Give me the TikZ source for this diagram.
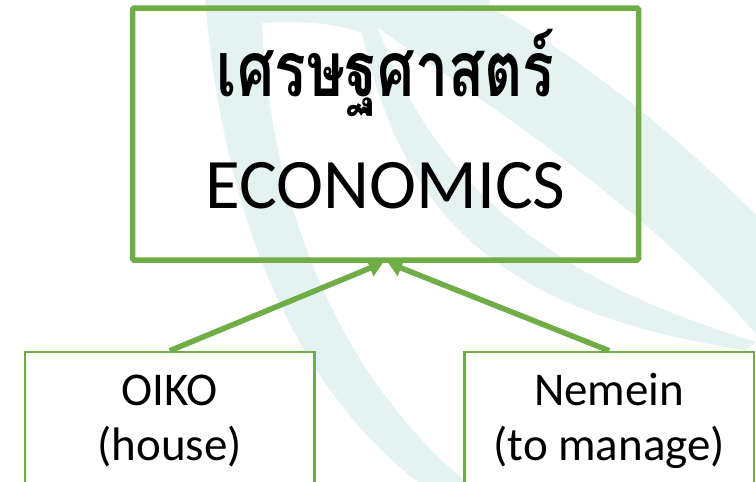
\documentclass[tikz,border=0pt]{standalone}
\usepackage{fontspec}
\setmainfont{Carlito}
\newfontfamily\thaifont[Script=Thai]{Loma}
\usetikzlibrary{arrows.meta}

\begin{document}
\begin{tikzpicture}[x=1pt,y=-1pt]
\definecolor{leafgreen}{RGB}{112,173,71}
\definecolor{wisp}{RGB}{228,243,242}
\tikzstyle{topbox}=[draw=leafgreen,line width=5.5pt,rounded corners=1.5pt,minimum width=506pt,minimum height=252pt,align=center,inner sep=0pt,font=\fontsize{71}{112}\selectfont,text height=181pt,text depth=33pt];
\tikzstyle{wordbox}=[draw=leafgreen,fill=white,line width=2.5pt,minimum width=289.5pt,minimum height=150pt,align=center,inner sep=0pt,font=\fontsize{47}{55}\selectfont,text height=85pt,text depth=19pt];
\tikzstyle{rootarrow}=[draw=leafgreen,line width=5.5pt,-{Triangle[length=14pt,width=17pt]}];
\useasboundingbox (0,0) rectangle (756,482);
\clip (0,0) rectangle (756,482);
\fill[wisp] (205,0) .. controls (225,230) and (300,390) .. (418,482) -- (466,482)
	.. controls (345,380) and (272,220) .. (262,23) .. controls (300,20) and (340,24) .. (362,33)
	-- (378,28) -- (489,6) -- (490,0) -- cycle;
\fill[wisp] (362,33) .. controls (400,200) and (480,310) .. (745,350) -- (756,342)
	.. controls (620,300) and (450,230) .. (378,28) -- cycle;
\fill[wisp] (378,28) .. controls (480,100) and (640,200) .. (756,334) -- (756,215)
	.. controls (680,140) and (600,70) .. (489,6) -- cycle;
\node[topbox] (econ) at (385.5,134) {\scalebox{1}[1.3]{\thaifont\bfseries\fontsize{59}{112}\selectfont เศรษฐศาสตร์}\\ECONOMICS};
\node[wordbox] (oiko) at (169.75,427) {OIKO\\(house)};
\node[wordbox] (nemein) at (609.25,427) {Nemein\\(to manage)};
\draw[rootarrow] (oiko.north) -- ([xshift=-2.5pt]econ.south);
\draw[rootarrow] (nemein.north) -- ([xshift=2.5pt]econ.south);
\end{tikzpicture}
\end{document}
